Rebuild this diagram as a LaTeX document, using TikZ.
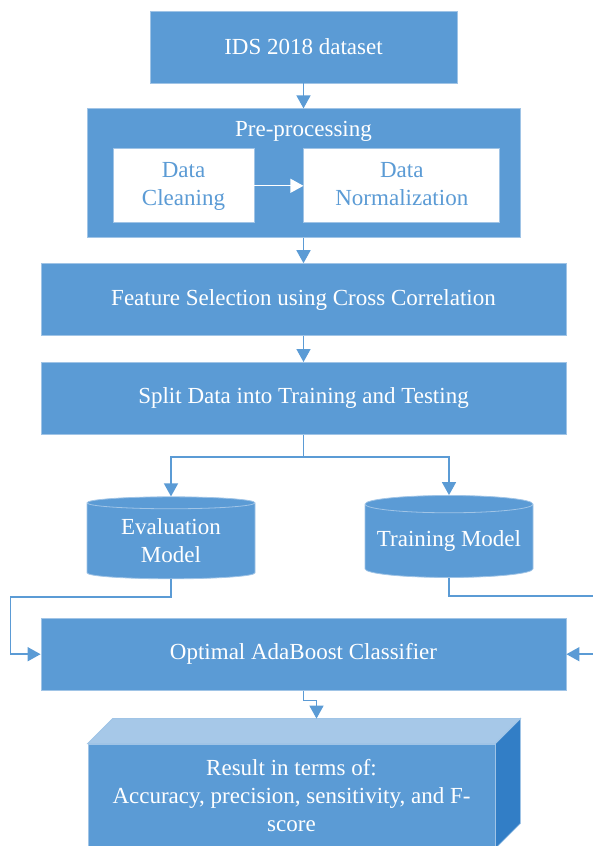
\documentclass[tikz,border=0pt]{standalone}
\usepackage{fontspec}
\setmainfont{Liberation Serif}
\usetikzlibrary{arrows.meta, positioning, shapes.geometric}
\definecolor{officeblue}{RGB}{91,155,213}
\definecolor{rimblue}{RGB}{160,196,230}
\definecolor{topblue}{RGB}{166,200,232}
\definecolor{sideblue}{RGB}{50,126,198}

\begin{document}
\begin{tikzpicture}[
    x=1pt, y=1pt,
    node distance=25pt and 49pt,
    box/.style={draw=rimblue, line width=0.8pt, fill=officeblue, text=white, minimum width=525pt, minimum height=72pt, font=\fontsize{23}{28}\selectfont, align=center, inner sep=0pt},
    inbox/.style={draw=rimblue, line width=0.8pt, fill=white, text=officeblue, minimum height=74pt, font=\fontsize{23}{28}\selectfont, align=center, inner sep=0pt},
    store/.style={cylinder, shape border rotate=90, aspect=0.12, draw=rimblue, line width=0.8pt, fill=officeblue, text=white, minimum width=168pt, minimum height=82pt, font=\fontsize{23}{28}\selectfont, align=center, inner sep=0pt},
    arrow/.style={-{Triangle[length=13pt, width=14pt]}, line width=1.6pt, draw=officeblue},
    line/.style={line width=1.6pt, draw=officeblue}
]
\useasboundingbox (0,0) rectangle (593,-846);

% --- Input data ---
\node[box, minimum width=307pt] (ids) at (303.5,-47) {IDS 2018 dataset};

% Pre-processing stage
\node[box, minimum width=433pt, minimum height=129pt, below=25pt of ids] (prep) {};
\node[below=13pt of prep.north, text=white, font=\fontsize{23}{28}\selectfont, inner sep=0pt] (preptitle) {Pre-processing};
\node[inbox, minimum width=141pt, anchor=north west] (clean) at ([xshift=26pt, yshift=-40pt]prep.north west) {\strut Data\\Cleaning\strut};
\node[inbox, minimum width=196pt, right=49pt of clean] (norm) {\strut Data\\Normalization\strut};

% Feature selection and split
\node[box, below=25pt of prep] (feat) {Feature Selection using Cross Correlation};
\node[box, below=26pt of feat] (split) {Split Data into Training and Testing};

% Data stores
\node[store] (eval) at (171,-541) {Evaluation\\Model};
\node[store] (train) at (449,-541) {Training Model};

% Classifier
\node[box, below=183pt of split] (opt) {Optimal AdaBoost Classifier};

% Result block (3D box)
\node[box, minimum width=407pt, minimum height=104pt] (res) at (291.5,-796) {Result in terms of:\\Accuracy, precision, sensitivity, and F-\\score};
\draw[draw=rimblue, line width=0.8pt, fill=topblue] (res.north west) -- ++(25,25) -- ([shift={(25,25)}]res.north east) -- (res.north east) -- cycle;
\draw[draw=rimblue, line width=0.8pt, fill=sideblue] (res.north east) -- ++(25,25) -- ([shift={(25,25)}]res.south east) -- (res.south east) -- cycle;
\coordinate (restop) at ([shift={(25,25)}]res.north);

% Arrows
\draw[arrow] (ids) -- (prep);
\draw[arrow, draw=white, line width=1.2pt] (clean) -- (norm);
\draw[arrow] (prep) -- (feat);
\draw[arrow] (feat) -- (split);
\draw[line] (split.south) -- ++(0,-22) coordinate (fork);
\draw[arrow] (fork) -| (eval.north);
\draw[arrow] (fork) -| (train.north);
\draw[arrow] (eval.south) -- ++(0,-18) -| ([xshift=-30pt]opt.west) -- (opt.west);
\draw[arrow] (train.south) -- ++(0,-18) -| ([xshift=30pt]opt.east) -- (opt.east);
\draw[arrow] (opt.south) -- ++(0,-10) -| (restop);

\end{tikzpicture}
\end{document}
